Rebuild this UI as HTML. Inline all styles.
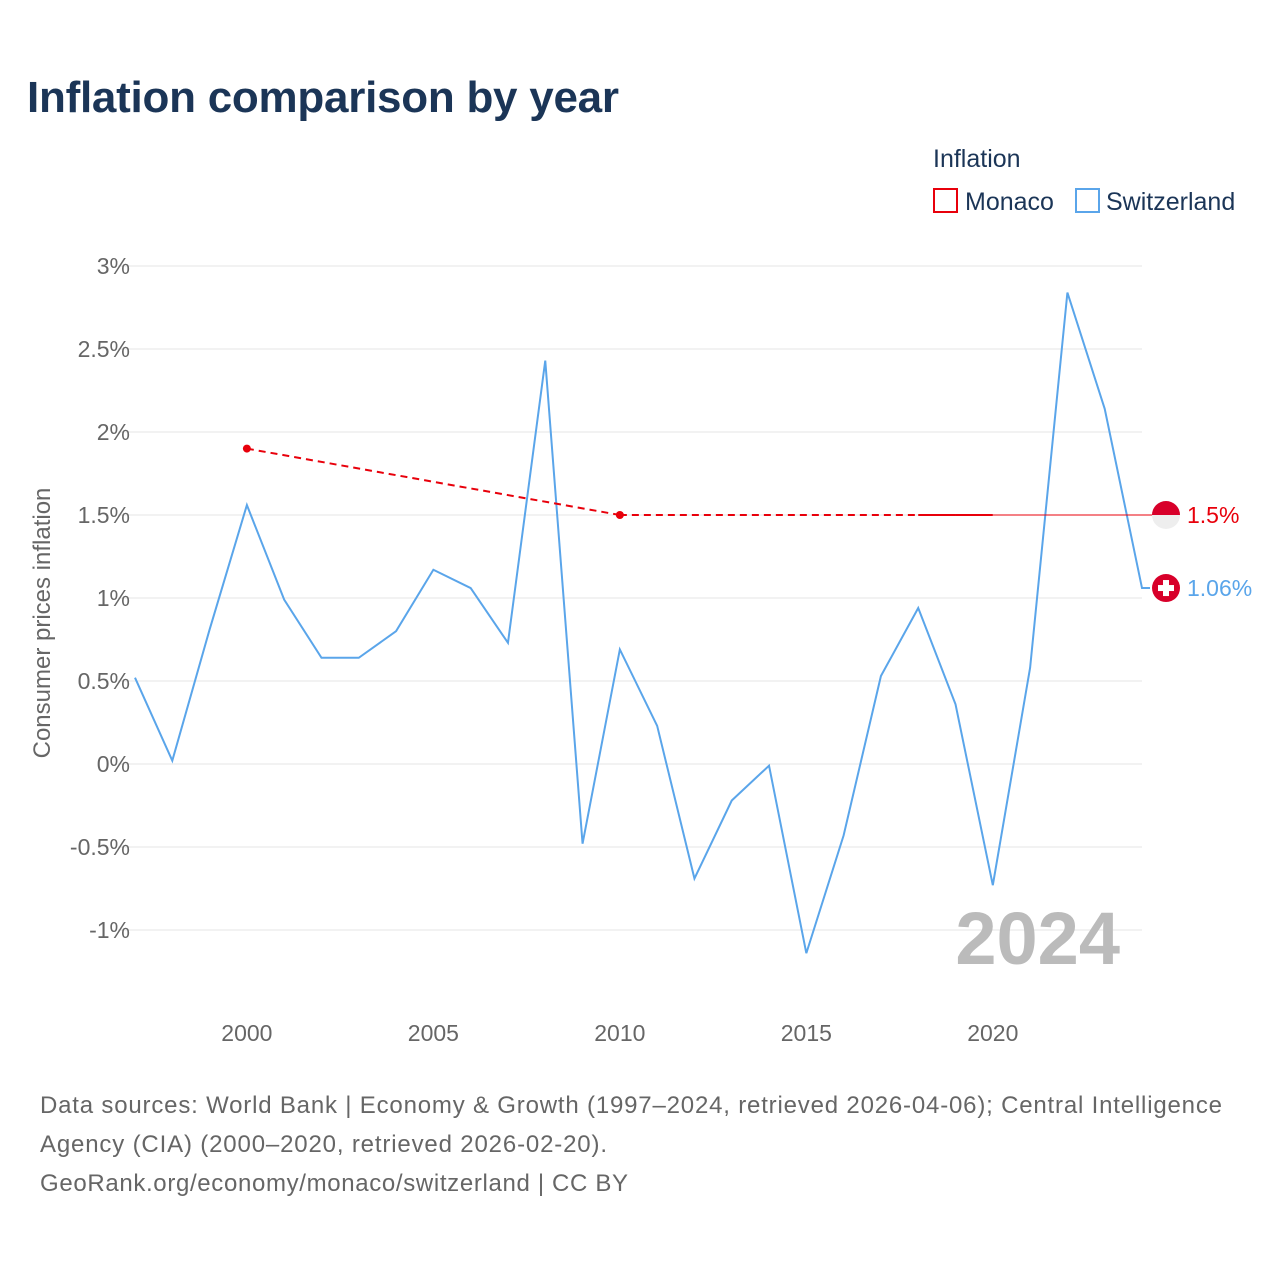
<!DOCTYPE html>
<html><head><meta charset="utf-8"><style>
body{margin:0;background:#fff;font-family:"Liberation Sans",sans-serif;}
#wrap{position:relative;width:1280px;height:1280px;overflow:hidden;}
</style></head><body>
<div id="wrap">
<svg id="svg" width="1280" height="1280">
<text x="27" y="112" font-size="44" font-weight="bold" fill="#1b3557" textLength="592">Inflation comparison by year</text>
<text x="933" y="167" font-size="25" fill="#1b3557">Inflation</text>
<g><rect x="934" y="189" width="23" height="23" fill="none" stroke="#e8000b" stroke-width="2"/><text x="965" y="210" font-size="25" fill="#1b3557">Monaco</text></g>
<g><rect x="1076" y="189" width="23" height="23" fill="none" stroke="#5aa5ea" stroke-width="2"/><text x="1106" y="210" font-size="25" fill="#1b3557">Switzerland</text></g>
<text transform="translate(50,623) rotate(-90)" text-anchor="middle" font-size="24" fill="#666">Consumer prices inflation</text>
<g id="grid"></g><g id="marks"></g>
<text x="1120" y="964" text-anchor="end" font-size="74" font-weight="bold" fill="#bbb">2024</text>
<text x="40" y="1113" font-size="24" fill="#666" textLength="1182">Data sources: World Bank | Economy &amp; Growth (1997–2024, retrieved 2026-04-06); Central Intelligence</text>
<text x="40" y="1152" font-size="24" fill="#666" textLength="567">Agency (CIA) (2000–2020, retrieved 2026-02-20).</text>
<text x="40" y="1191" font-size="24" fill="#666" textLength="588">GeoRank.org/economy/monaco/switzerland | CC BY</text>
</svg></div>
<script>
const yTicks=[-1,-0.5,0,0.5,1,1.5,2,2.5,3];
const xTicks=[2000,2005,2010,2015,2020];
const chYears=[1997,1998,1999,2000,2001,2002,2003,2004,2005,2006,2007,2008,2009,2010,2011,2012,2013,2014,2015,2016,2017,2018,2019,2020,2021,2022,2023,2024];
const chValues=[0.52,0.02,0.81,1.56,0.99,0.64,0.64,0.80,1.17,1.06,0.73,2.43,-0.48,0.69,0.23,-0.69,-0.22,-0.01,-1.14,-0.43,0.53,0.94,0.36,-0.73,0.58,2.84,2.14,1.06];
const mcYears=[2000,2010,2018,2019,2020];
const mcValues=[1.9,1.5,1.5,1.5,1.5];
const X=y=>135+(y-1997)*(1142-135)/27;
const Y=v=>764-v*166;
const NS="http://www.w3.org/2000/svg";
function mk(t,a,p){const e=document.createElementNS(NS,t);for(const k in a)e.setAttribute(k,a[k]);p.appendChild(e);return e;}
const g=document.getElementById('grid'),m=document.getElementById('marks');
yTicks.forEach(v=>{
 const l=mk('line',{x1:118,x2:1142,y1:Y(v),y2:Y(v),stroke:'#e6e6e6','stroke-width':1},g);
 
 
 const t=mk('text',{x:130,y:Y(v)+8,'text-anchor':'end','font-size':23,fill:'#666'},g);
 t.textContent=(v+'%');
 
 
});
xTicks.forEach(y=>{
 const t=mk('text',{x:X(y),y:1041,'text-anchor':'middle','font-size':23,fill:'#666'},g);
 t.textContent=y;
 
 
});
let d=chYears.map((y,i)=>(i?'L':'M')+X(y)+','+Y(chValues[i])).join(' ');
d+=' L1150,'+Y(chValues[chValues.length-1]);
const sp=mk('path',{d:d,fill:'none',stroke:'#5aa5ea','stroke-width':2},m);


for(let i=0;i<mcYears.length;i++){
 const prevC=i>0&&mcYears[i]-mcYears[i-1]==1, nextC=i<mcYears.length-1&&mcYears[i+1]-mcYears[i]==1;
 if(i<mcYears.length-1){
  const ln=mk('line',{x1:X(mcYears[i]),y1:Y(mcValues[i]),x2:X(mcYears[i+1]),y2:Y(mcValues[i+1]),stroke:'#e8000b','stroke-width':2},m);
  if(!nextC)ln.setAttribute('stroke-dasharray','7,5');
  
  
 }
 if(!prevC&&!nextC){
  const c=mk('circle',{cx:X(mcYears[i]),cy:Y(mcValues[i]),r:4,fill:'#e8000b'},m);
  
  
 }
}
const mLast=mcValues[mcValues.length-1];
const ml=mk('line',{x1:X(mcYears[mcYears.length-1]),y1:Y(mLast),x2:1160,y2:Y(mLast),stroke:'#e8000b','stroke-width':1},m);


const cy1=Y(mLast);
const f1=mk('g',{},m);


mk('circle',{cx:1166,cy:cy1,r:14,fill:'#eee'},f1);
mk('path',{d:`M1152,${cy1} A14,14 0 0 1 1180,${cy1} Z`,fill:'#d8002a'},f1);
const lt1=mk('text',{x:1187,y:cy1+8,'font-size':23,fill:'#e8000b'},m);
lt1.textContent=mLast+'%';


const cLast=chValues[chValues.length-1];
const cy2=Y(cLast);
const f2=mk('g',{},m);


mk('circle',{cx:1166,cy:cy2,r:14,fill:'#d8002a'},f2);
mk('rect',{x:1163,y:cy2-8,width:6,height:16,fill:'#fff'},f2);
mk('rect',{x:1158,y:cy2-3,width:16,height:6,fill:'#fff'},f2);
const lt2=mk('text',{x:1187,y:cy2+8,'font-size':23,fill:'#5aa5ea'},m);
lt2.textContent=cLast.toFixed(2)+'%';


</script>
</body></html>
